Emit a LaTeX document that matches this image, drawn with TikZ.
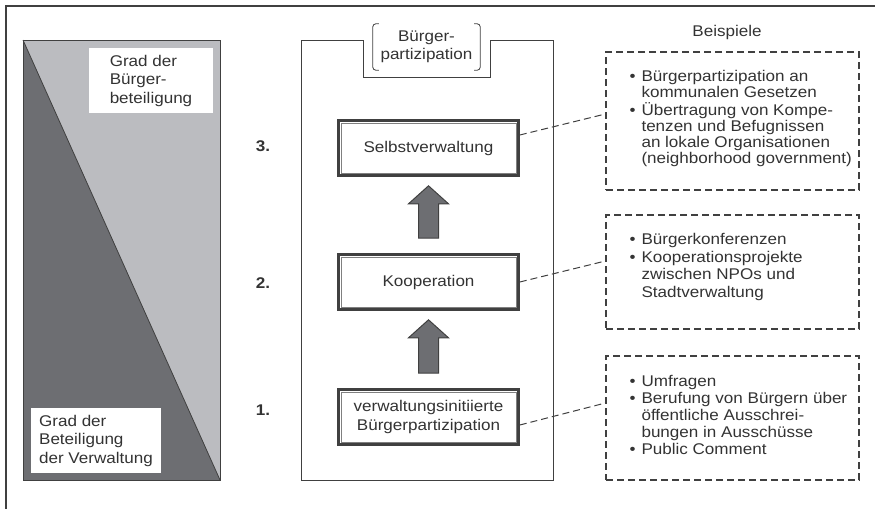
\documentclass[tikz,border=0pt]{standalone}
\usepackage{fontspec}
\setmainfont[FakeStretch=1.1]{Liberation Sans}
\usetikzlibrary{calc}
\definecolor{dunkel}{HTML}{6D6E72}
\definecolor{hell}{HTML}{BBBCC0}
\definecolor{rand}{HTML}{404040}
\tikzset{
  stufe/.style={draw=rand, line width=2.6pt, fill=white, minimum width=180pt, minimum height=55pt, align=center, inner sep=0pt},
  beispiel/.style={draw=rand, line width=1.3pt, dash pattern=on 7pt off 4pt, minimum width=253pt, inner sep=0pt},
  verbinder/.style={draw=rand, line width=1pt, dash pattern=on 7pt off 4pt},
  pfeil/.style={fill=dunkel, draw=rand, line width=1pt, line join=miter},
  marke/.style={fill=white, minimum width=#1, minimum height=65pt, align=left, inner sep=0pt},
  liste/.style={anchor=north west, inner sep=0pt, font=\fontsize{15.5}{#1}\selectfont},
}
\begin{document}
\begin{tikzpicture}[x=1pt,y=-1pt,font=\fontsize{15.5}{18.5}\selectfont,text=black!80]
\useasboundingbox (0,0) rectangle (875,509);
\draw[rand, line width=1.2pt] (875,6) -- (6,6) -- (6,509);

\fill[hell] (23,40) rectangle (220,480);
\fill[dunkel] (23,40) -- (220,480) -- (23,480) -- cycle;
\draw[rand, line width=1pt] (23,40) rectangle (220,480);
\draw[rand, line width=0.8pt] (23,40) -- (220,480);
\node[marke=124pt] (buerger) at (151,80.5) {Grad der\\Bürger-\\beteiligung};
\node[marke=130pt] (verwaltung) at (96,440.5) {Grad der\\Beteiligung\\der Verwaltung};

\draw[rand, line width=1pt] (301,40) -- (363,40) -- (363,77) -- (490,77) -- (490,40) -- (553,40) -- (553,480) -- (301,480) -- cycle;
\node[minimum width=107pt, minimum height=46pt, inner sep=0pt, align=center] (titel) at (426.5,47) {Bürger-\\partizipation};
\draw[rand, line width=0.8pt, rounded corners=3pt] ([xshift=6pt]titel.north west) -- (titel.north west) -- (titel.south west) -- ([xshift=6pt]titel.south west);
\draw[rand, line width=0.8pt, rounded corners=3pt] ([xshift=-6pt]titel.north east) -- (titel.north east) -- (titel.south east) -- ([xshift=-6pt]titel.south east);

\node[stufe] (s3) at (428.5,148) {Selbstverwaltung};
\node[stufe] (s2) at (428.5,282) {Kooperation};
\node[stufe] (s1) at (428.5,417) {verwaltungsinitiierte\\Bürgerpartizipation};
\foreach \s in {s1,s2,s3}
  \draw[gray, line width=0.9pt] ([shift={(3.8pt,-3.8pt)}]\s.north west) rectangle ([shift={(-3.8pt,3.8pt)}]\s.south east);
\foreach \n/\y in {3/146,2/283,1/410}
  \node[font=\bfseries\fontsize{15.5}{18}\selectfont] (nr\n) at (263,\y) {\n.};

\foreach \u/\o in {s1/s2,s2/s3}
  \draw[pfeil] ($(\u.north)+(-10,-15)$) -- ($(\o.south)+(-10,27)$) -- ($(\o.south)+(-20,27)$) -- ($(\o.south)+(0,9)$)
    -- ($(\o.south)+(20,27)$) -- ($(\o.south)+(10,27)$) -- ($(\u.north)+(10,-15)$) -- cycle;

\node (kopf) at (727,32) {Beispiele};
\node[beispiel, minimum height=138pt] (b3) at (732.5,121) {};
\node[beispiel, minimum height=114pt] (b2) at (732.5,272) {};
\node[beispiel, minimum height=124pt] (b1) at (732.5,418) {};

\node[liste=16] (l3) at ([shift={(24pt,-19pt)}]b3.north west) {\begin{tabular}{@{}l@{\hspace{6pt}}l@{}}
  • & Bürgerpartizipation an\\
    & kommunalen Gesetzen\\
  • & Übertragung von Kompe-\\
    & tenzen und Befugnissen\\
    & an lokale Organisationen\\
    & (neighborhood government)
  \end{tabular}};
\node[liste=17.5] (l2) at ([shift={(24pt,-18pt)}]b2.north west) {\begin{tabular}{@{}l@{\hspace{6pt}}l@{}}
  • & Bürgerkonferenzen\\
  • & Kooperationsprojekte\\
    & zwischen NPOs und\\
    & Stadtverwaltung
  \end{tabular}};
\node[liste=17] (l1) at ([shift={(24pt,-19pt)}]b1.north west) {\begin{tabular}{@{}l@{\hspace{6pt}}l@{}}
  • & Umfragen\\
  • & Berufung von Bürgern über\\
    & öffentliche Ausschrei-\\
    & bungen in Ausschüsse\\
  • & Public Comment
  \end{tabular}};

\foreach \s/\b/\ds/\db in {s3/b3/13/7,s2/b2/0/11,s1/b1/-8/15}
  \draw[verbinder] ([yshift=\ds pt]\s.east) -- ([yshift=\db pt]\b.west);
\end{tikzpicture}
\end{document}
